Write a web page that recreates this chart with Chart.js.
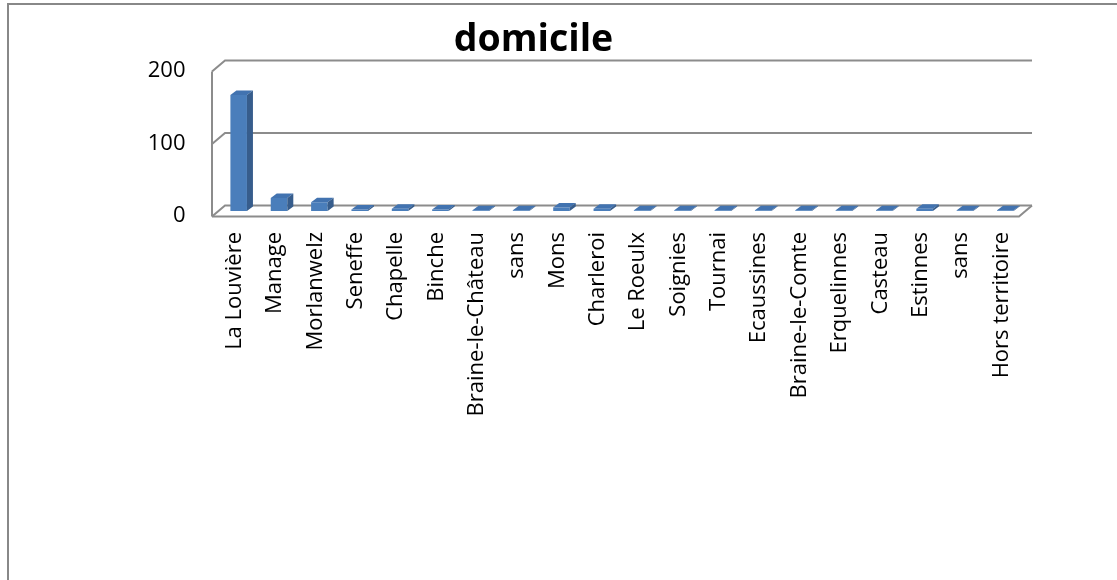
<!DOCTYPE html>
<html>
<head>
<meta charset="utf-8">
<script src="https://cdn.jsdelivr.net/npm/chart.js@4/dist/chart.umd.min.js"></script>
<style>
    html, body { margin: 0; padding: 0; background: #fff; }
    #wrap { width: 1117px; height: 580px; }
</style>
</head>
<body>
<div id="wrap"><canvas id="domicileChart"></canvas></div>
<script>
// categories and values
const communes = ["La Louvière", "Manage", "Morlanwelz", "Seneffe", "Chapelle", "Binche",
    "Braine-le-Château", "sans", "Mons", "Charleroi", "Le Roeulx", "Soignies", "Tournai",
    "Ecaussines", "Braine-le-Comte", "Erquelinnes", "Casteau", "Estinnes", "sans", "Hors territoire"];
const domicileCounts = [160, 18, 12, 2, 3, 2, 1, 1, 5, 3, 1, 1, 1, 1, 1, 1, 1, 3, 1, 1];
const yTicks = [0, 100, 200];

// fake 3D depth of the walls (half offset) and of each bar
const wallDx = 6.5, wallDy = 5.5;
const barDx = 6, barDy = 4.5;

const gridColor = "#8c8c8c";

const excel3d = {
    id: "excel3d",
    beforeDraw(chart) {
        const ctx = chart.ctx;
        ctx.save();
        ctx.fillStyle = "#fff";
        ctx.fillRect(0, 0, chart.width, chart.height);
        // outer chart frame (only top and left show)
        ctx.strokeStyle = "#888";
        ctx.lineWidth = 2;
        ctx.beginPath();
        ctx.moveTo(8, chart.height);
        ctx.lineTo(8, 4);
        ctx.lineTo(chart.width, 4);
        ctx.stroke();
        ctx.restore();
    },
    beforeDatasetsDraw(chart) {
        const ctx = chart.ctx;
        const y = chart.scales.y;
        const L = chart.chartArea.left, R = chart.chartArea.right;
        ctx.save();
        ctx.strokeStyle = gridColor;
        ctx.lineWidth = 2;
        yTicks.forEach(function (v) {
            const py = y.getPixelForValue(v);
            ctx.beginPath();
            ctx.moveTo(L - wallDx, py + wallDy);
            ctx.lineTo(L + wallDx, py - wallDy);
            ctx.lineTo(R + wallDx, py - wallDy);
            ctx.stroke();
        });
        // floor
        const p0 = y.getPixelForValue(0);
        ctx.beginPath();
        ctx.moveTo(L - wallDx, p0 + wallDy);
        ctx.lineTo(R - wallDx, p0 + wallDy);
        ctx.lineTo(R + wallDx, p0 - wallDy);
        ctx.stroke();
        // left wall edge
        ctx.beginPath();
        ctx.moveTo(L - wallDx, y.getPixelForValue(yTicks[yTicks.length - 1]) + wallDy);
        ctx.lineTo(L - wallDx, p0 + wallDy);
        ctx.stroke();
        ctx.restore();
    },
    afterDatasetsDraw(chart) {
        const ctx = chart.ctx;
        ctx.save();
        chart.getDatasetMeta(0).data.forEach(function (bar) {
            const l = bar.x - bar.width / 2, r = bar.x + bar.width / 2;
            const top = bar.y, base = bar.base;
            // top face
            ctx.fillStyle = "#4273B0";
            ctx.beginPath();
            ctx.moveTo(l, top);
            ctx.lineTo(l + barDx, top - barDy);
            ctx.lineTo(r + barDx, top - barDy);
            ctx.lineTo(r, top);
            ctx.closePath();
            ctx.fill();
            // side face
            ctx.fillStyle = "#375D8C";
            ctx.beginPath();
            ctx.moveTo(r, top);
            ctx.lineTo(r + barDx, top - barDy);
            ctx.lineTo(r + barDx, base - barDy);
            ctx.lineTo(r, base);
            ctx.closePath();
            ctx.fill();
        });
        ctx.restore();
    }
};

new Chart(document.getElementById("domicileChart"), {
    type: "bar",
    data: {
        labels: communes,
        datasets: [{
            label: "domicile",
            data: domicileCounts,
            backgroundColor: "#4A7EBB",
            borderWidth: 0,
            barPercentage: 0.41,
            categoryPercentage: 1
        }]
    },
    options: {
        responsive: true,
        maintainAspectRatio: false,
        animation: false,
        layout: { padding: { left: 41.5, right: 91.5, top: 0, bottom: 0 } },
        plugins: {
            legend: { display: false },
            tooltip: { enabled: false },
            title: {
                display: true,
                text: "domicile",
                color: "#000",
                font: { family: "Open Sans", size: 37.5, weight: "bold", lineHeight: 1.2 },
                padding: { top: 17.5, bottom: 3.5 }
            }
        },
        scales: {
            x: {
                grid: { display: false, drawTicks: false },
                border: { display: false },
                ticks: {
                    color: "#000",
                    font: { family: "Open Sans", size: 22 },
                    minRotation: 90,
                    maxRotation: 90,
                    autoSkip: false,
                    padding: 21,
                    labelOffset: -4
                },
                afterFit(scale) { scale.height = 369; }
            },
            y: {
                min: 0,
                max: 200,
                grid: { display: false, drawTicks: false },
                border: { display: false },
                ticks: {
                    stepSize: 100,
                    color: "#000",
                    font: { family: "Open Sans", size: 22 },
                    padding: 33,
                    labelOffset: 5
                },
                afterFit(scale) { scale.width = 177; }
            }
        }
    },
    plugins: [excel3d]
});
</script>
</body>
</html>
